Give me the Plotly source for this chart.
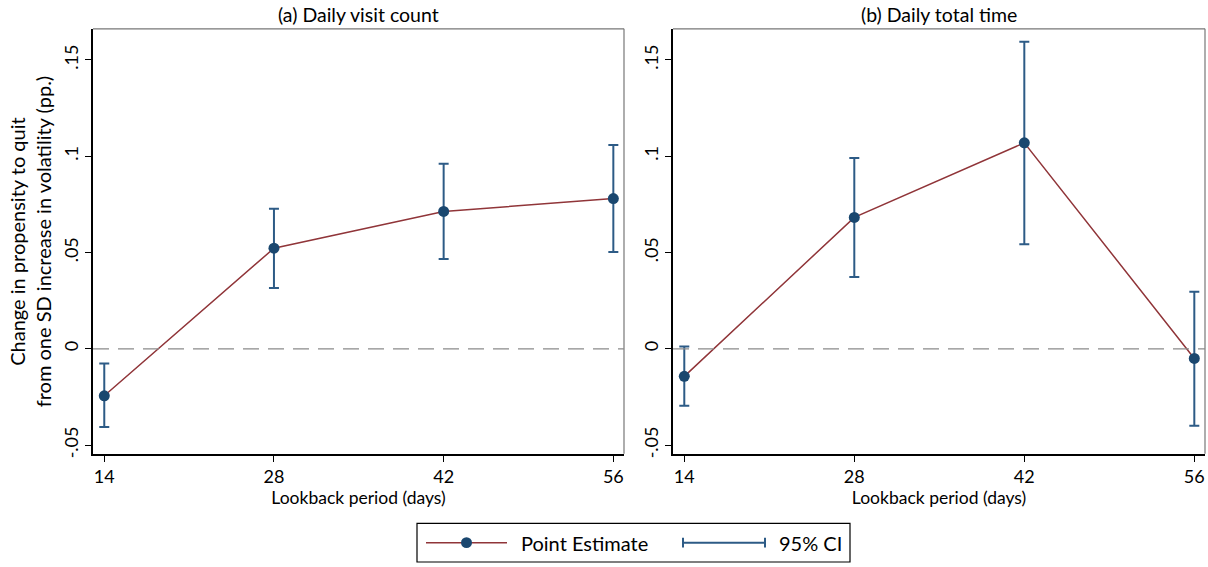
import plotly.graph_objects as go

lookback = [14, 28, 42, 56]
tick_vals_y = [-0.05, 0, 0.05, 0.1, 0.15]
tick_text_y = ["-.05", "0", ".05", ".1", ".15"]

# (a) Daily visit count
est_a = [-0.0244, 0.0522, 0.0713, 0.0780]
hi_a = [-0.0077, 0.0727, 0.0960, 0.1058]
lo_a = [-0.0406, 0.0316, 0.0466, 0.0502]

# (b) Daily total time
est_b = [-0.0143, 0.0682, 0.1069, -0.0050]
hi_b = [0.0012, 0.0990, 0.1594, 0.0296]
lo_b = [-0.0296, 0.0373, 0.0543, -0.0400]

titles = ["(a) Daily visit count", "(b) Daily total time"]

RED = "#903539"
NAVY = "#1A476F"
CI = "#2D5B86"
FONT = "Lato"
W, H = 1208, 567

fig = go.Figure()

panels = [
    (est_a, hi_a, lo_a, "x", "y", [93, 624]),
    (est_b, hi_b, lo_b, "x2", "y2", [673, 1205]),
]

for est, hi, lo, xa, ya, _ in panels:
    fig.add_trace(go.Scatter(
        x=lookback, y=est, mode="lines", line=dict(color=RED, width=1.5),
        xaxis=xa, yaxis=ya, showlegend=False, hoverinfo="skip"))
    fig.add_trace(go.Scatter(
        x=lookback, y=est, mode="markers",
        marker=dict(color=NAVY, size=11, line=dict(width=0)),
        error_y=dict(type="data", symmetric=False,
                     array=[h - e for h, e in zip(hi, est)],
                     arrayminus=[e - l for e, l in zip(est, lo)],
                     color=CI, thickness=2, width=5),
        xaxis=xa, yaxis=ya, showlegend=False))

y_top, y_bot = 29, 457
ydom = [1 - y_bot / H, 1 - y_top / H]
yrange = [-0.0545, 0.1661]
xrange = [13.07, 56.88]

axis_common = dict(showgrid=False, zeroline=False, ticks="outside", ticklen=6,
                   tickcolor="black", tickwidth=1.2, showline=True,
                   linecolor="black", linewidth=2,
                   tickfont=dict(family=FONT, size=18, color="black"))

layout = dict(
    width=W, height=H, margin=dict(l=0, r=0, t=0, b=0),
    plot_bgcolor="white", paper_bgcolor="white", showlegend=False,
    font=dict(family=FONT, color="black"),
)
for i, (_, _, _, xa, ya, px) in enumerate(panels):
    xk = "xaxis" if i == 0 else "xaxis2"
    yk = "yaxis" if i == 0 else "yaxis2"
    layout[xk] = dict(axis_common, domain=[px[0] / W, px[1] / W], range=xrange,
                      tickvals=lookback, anchor=ya,
                      title=dict(text="Lookback period (days)",
                                 font=dict(family=FONT, size=17.5), standoff=0))
    layout[yk] = dict(axis_common, domain=ydom, range=yrange,
                      tickvals=tick_vals_y, ticktext=tick_text_y,
                      tickangle=-90, anchor=xa)
fig.update_layout(**layout)

shapes = []
annotations = []
for i, (_, _, _, xa, ya, px) in enumerate(panels):
    # top and right frame (gray thin)
    shapes.append(dict(type="line", xref="paper", yref="paper",
                       x0=px[0] / W, x1=px[1] / W, y0=ydom[1], y1=ydom[1],
                       line=dict(color="#777777", width=1.2)))
    shapes.append(dict(type="line", xref="paper", yref="paper",
                       x0=px[1] / W, x1=px[1] / W, y0=ydom[0], y1=ydom[1],
                       line=dict(color="#777777", width=1.2)))
    # zero reference line
    shapes.append(dict(type="line", xref=xa + " domain", yref=ya,
                       x0=0, x1=1, y0=0, y1=0,
                       line=dict(color="#8a8a8a", width=1.3, dash="16px,9px")))
    annotations.append(dict(text=titles[i], xref="paper", yref="paper",
                            x=(px[0] + px[1]) / 2 / W, y=1 - 15 / H,
                            showarrow=False, xanchor="center", yanchor="middle",
                            font=dict(family=FONT, size=19.5, color="black")))

annotations.append(dict(
    text="Change in propensity to quit<br>from one SD increase in volatility (pp.)",
    xref="paper", yref="paper", x=30 / W, y=1 - 243 / H, textangle=-90,
    showarrow=False, xanchor="center", yanchor="middle",
    font=dict(family=FONT, size=20, color="black")))

# Legend (drawn manually)
lx0, lx1, ly0, ly1 = 417, 850, 527, 566
def px_x(v): return v / W
def px_y(v): return 1 - v / H
shapes.append(dict(type="rect", xref="paper", yref="paper",
                   x0=px_x(lx0), x1=px_x(lx1), y0=px_y(ly1), y1=px_y(ly0),
                   line=dict(color="black", width=1.2), fillcolor="white"))
ly = (ly0 + ly1) / 2
shapes.append(dict(type="line", xref="paper", yref="paper",
                   x0=px_x(426), x1=px_x(507), y0=px_y(ly), y1=px_y(ly),
                   line=dict(color=RED, width=1.5)))
shapes.append(dict(type="circle", xref="paper", yref="paper",
                   x0=px_x(461), x1=px_x(472), y0=px_y(ly + 5.5), y1=px_y(ly - 5.5),
                   line=dict(width=0), fillcolor=NAVY))
shapes.append(dict(type="line", xref="paper", yref="paper",
                   x0=px_x(683), x1=px_x(765), y0=px_y(ly), y1=px_y(ly),
                   line=dict(color=CI, width=2)))
for cx in (683, 765):
    shapes.append(dict(type="line", xref="paper", yref="paper",
                       x0=px_x(cx), x1=px_x(cx), y0=px_y(ly - 5), y1=px_y(ly + 5),
                       line=dict(color=CI, width=2)))
annotations.append(dict(text="Point Estimate", xref="paper", yref="paper",
                        x=px_x(519), y=px_y(ly), xanchor="left", yanchor="middle",
                        showarrow=False, font=dict(family=FONT, size=20, color="black")))
annotations.append(dict(text="95% CI", xref="paper", yref="paper",
                        x=px_x(777), y=px_y(ly), xanchor="left", yanchor="middle",
                        showarrow=False, font=dict(family=FONT, size=20, color="black")))

fig.update_layout(shapes=shapes, annotations=annotations)
fig.write_html("out.html")
